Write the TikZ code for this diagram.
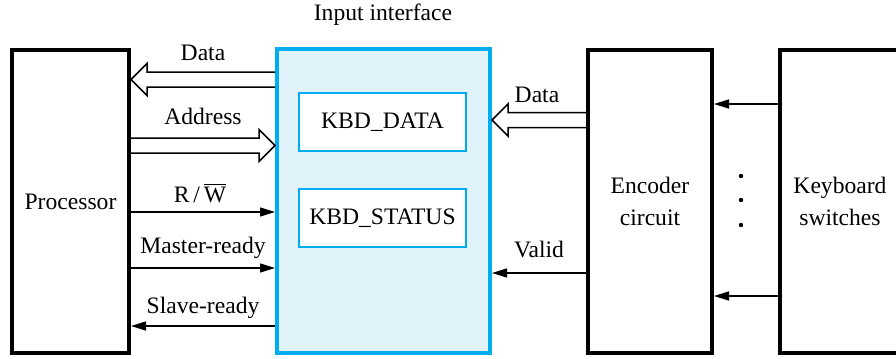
\documentclass[tikz,border=0pt]{standalone}
\usepackage{fontspec}
\setmainfont{Liberation Serif}
\usetikzlibrary{arrows.meta,calc}
\definecolor{ifblue}{HTML}{00AEEF}
\definecolor{iffill}{HTML}{E0F2FA}
\tikzset{
  unit/.style={draw, line width=2pt, minimum width=#1, minimum height=151.5pt, align=center, inner sep=0pt},
  reg/.style={draw=ifblue, line width=1pt, fill=white, minimum width=83.5pt, minimum height=29pt, inner sep=0pt},
  sig/.style={-{Triangle[length=7.5pt,width=4.5pt]}, line width=0.75pt},
  bus/.style={line width=0.75pt, line join=miter},
  lbl/.style={inner sep=0pt},
}
% hollow bus arrow: tip point, tail point (same height)
\newcommand\bus[2]{%
  \draw[bus] let \p1=(#1), \p2=(#2), \n1={sign(\x2-\x1)*8pt} in
    (\x2,\y1+3.75pt) -- (\x1+\n1,\y1+3.75pt) -- (\x1+\n1,\y1+8pt) -- (\x1,\y1)
    -- (\x1+\n1,\y1-8pt) -- (\x1+\n1,\y1-3.75pt) -- (\x2,\y1-3.75pt);}

\begin{document}
\begin{tikzpicture}[x=0.5pt, y=-0.5pt, font=\fontsize{11.8}{16}\selectfont]
  \useasboundingbox (0,0) rectangle (896,359);
  % --- units ---
  \node[unit=58.5pt] (proc) at (70.5,201.5) {Processor};
  \node[draw=ifblue, fill=iffill, line width=2pt, minimum width=106.5pt, minimum height=152pt] (iface) at (383.5,201) {};
  \node[lbl] (ititle) at (383,15) {Input interface};
  \node[reg] (kdata) at (382.5,122) {KBD\_DATA};
  \node[reg] (kstat) at (382.5,218) {KBD\_STATUS};
  \node[unit=62pt] (enc) at (650,201.5) {Encoder\\circuit};
  \node[unit=60pt] (kbd) at (840,201.5) {Keyboard\\switches};

  % --- processor side ---
  \bus{proc.east |- 0,79.5}{iface.west |- 0,79.5}
  \bus{iface.west |- 0,145.5}{proc.east |- 0,145.5}
  \draw[sig] (proc.east |- 0,212) -- (iface.west |- 0,212);
  \draw[sig] (proc.east |- 0,268) -- (iface.west |- 0,268);
  \draw[sig] (iface.west |- 0,326) -- (proc.east |- 0,326);
  \node[lbl] (ldata) at (203,53) {Data};
  \node[lbl] (laddr) at (203,116) {Address};
  \node[lbl] (lrw) at (200,193) {R\,/\,$\overline{\hbox{W}}$};
  \node[lbl] (lmrdy) at (203,248) {Master-ready};
  \node[lbl] (lsrdy) at (203,308) {Slave-ready};

  % --- encoder side ---
  \bus{iface.east |- 0,120}{enc.west |- 0,120}
  \draw[sig] (enc.west |- 0,273) -- (iface.east |- 0,273);
  \node[lbl] (edata) at (537,95) {Data};
  \node[lbl] (evalid) at (539,249) {Valid};

  % --- keyboard lines ---
  \draw[sig] (kbd.west |- 0,104) -- (enc.east |- 0,104);
  \draw[sig] (kbd.west |- 0,296) -- (enc.east |- 0,296);
  \foreach \yy in {176,200,225}
    \fill (741,\yy) circle (1.1pt);
\end{tikzpicture}
\end{document}
